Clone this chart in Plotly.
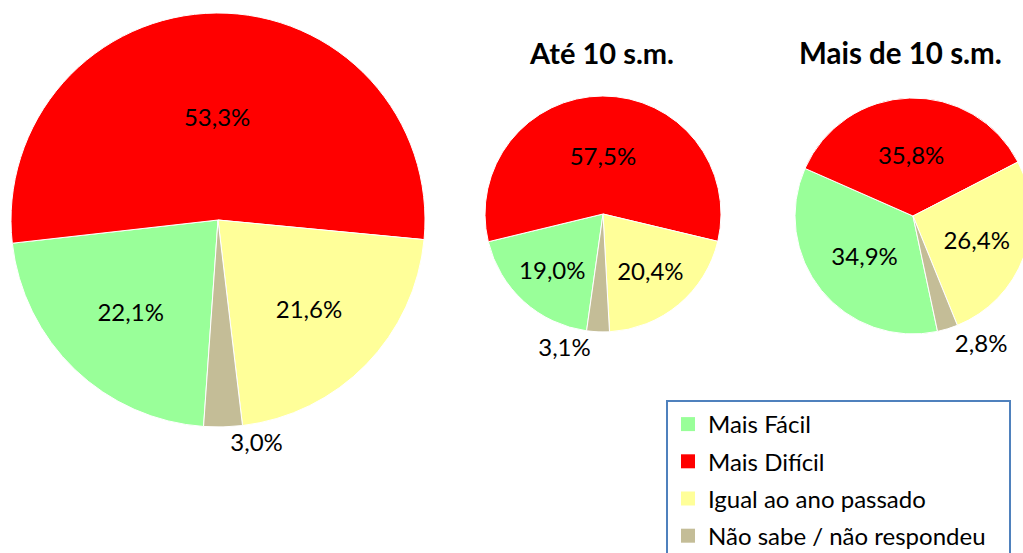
import plotly.graph_objects as go

categories = ["Mais Fácil", "Mais Difícil", "Igual ao ano passado", "Não sabe / não respondeu"]
colors = ["#99FF99", "#FF0000", "#FFFF99", "#C4BD97"]

total_vals = [22.1, 53.3, 21.6, 3.0]
ate10_vals = [19.0, 57.5, 20.4, 3.1]
mais10_vals = [34.9, 35.8, 26.4, 2.8]

W, H = 1040, 553
FONT = "Lato"


def fmt(v):
    return f"{v:.1f}".replace(".", ",") + "%"


def dom_x(cx, r):
    return [max(0, (cx - r) / W), min(1, (cx + r) / W)]


def dom_y(cy, r):
    return [(H - (cy + r)) / H, (H - (cy - r)) / H]


specs = [
    (total_vals, 218, 220, 207, 184),
    (ate10_vals, 603, 214, 118, 188),
    (mais10_vals, 913, 216, 118, 168),
]

fig = go.Figure()
for i, (vals, cx, cy, r, rot) in enumerate(specs):
    fig.add_trace(go.Pie(
        labels=categories,
        values=vals,
        text=[fmt(v) for v in vals],
        textinfo="text",
        textposition=["inside", "inside", "inside", "outside"],
        insidetextorientation="horizontal",
        textfont=dict(family=FONT, size=24, color="black"),
        marker=dict(colors=colors, line=dict(color="white", width=1)),
        sort=False,
        direction="clockwise",
        rotation=rot,
        domain=dict(x=dom_x(cx, r), y=dom_y(cy, r)),
        showlegend=False,
        hoverinfo="label+percent",
    ))

# legend entries (square swatches), one group each for spacing
pad = {"Não sabe / não respondeu": "\u00a0\u00a0\u00a0"}
for name, col in zip(categories, colors):
    fig.add_trace(go.Scatter(
        x=[None], y=[None], mode="markers", name=name + pad.get(name, ""),
        legendgroup=name,
        marker=dict(symbol="square", size=14, color=col, line=dict(width=0)),
        showlegend=True, hoverinfo="skip",
    ))

fig.add_annotation(text="<b>Até 10 s.m.</b>", x=601 / W, y=1 - 53 / H, xref="paper", yref="paper",
                   xanchor="center", yanchor="middle",
                   showarrow=False, font=dict(family=FONT, size=29, color="black"))
fig.add_annotation(text="<b>Mais de 10 s.m.</b>", x=900 / W, y=1 - 53 / H, xref="paper", yref="paper",
                   xanchor="center", yanchor="middle",
                   showarrow=False, font=dict(family=FONT, size=29.5, color="black"))

fig.update_layout(
    width=W, height=H,
    margin=dict(l=0, r=0, t=0, b=0, autoexpand=False),
    paper_bgcolor="white",
    plot_bgcolor="white",
    xaxis=dict(visible=False),
    yaxis=dict(visible=False),
    font=dict(family=FONT, size=24, color="black"),
    legend=dict(
        x=666 / W, y=1 - 400 / H, xanchor="left", yanchor="top",
        traceorder="grouped", tracegroupgap=3,
        bordercolor="#4F81BD", borderwidth=2, bgcolor="white",
        font=dict(family=FONT, size=24, color="black"),
    ),
)

fig.write_html("out.html", config={"displayModeBar": False},
               post_script="document.body.style.margin='0px';")
